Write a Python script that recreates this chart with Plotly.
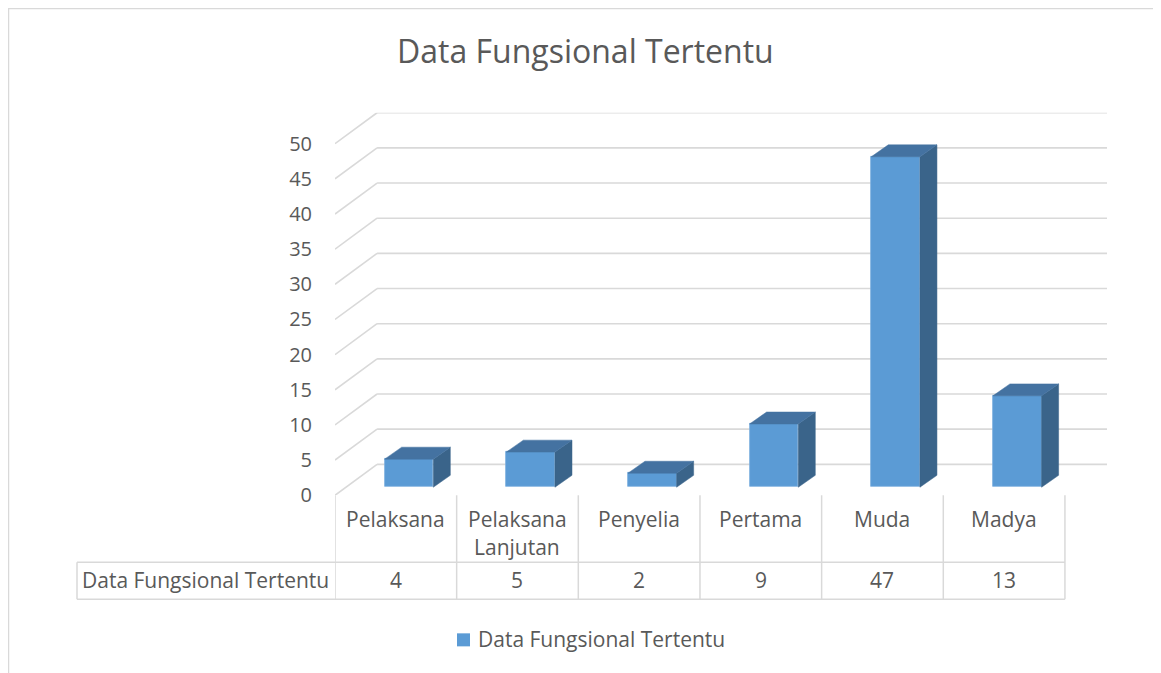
import plotly.graph_objects as go

# ---------------- data ----------------
categories = ["Pelaksana", "Pelaksana Lanjutan", "Penyelia", "Pertama", "Muda", "Madya"]
values = [4, 5, 2, 9, 47, 13]
series_name = "Data Fungsional Tertentu"
title_text = "Data Fungsional Tertentu"
y_ticks = [0, 5, 10, 15, 20, 25, 30, 35, 40, 45, 50]

# ---------------- geometry / style ----------------
OFF = 8                      # default page body margin
S_Y = 0.98                   # observed vertical scale of the capture
W, H = 1161 - OFF, 668
FONT = "Open Sans"
TXT = "#595959"
GRID = "#D9D9D9"
FRONT = "#5B9BD5"
TOP = "#4472A1"
SIDE = "#3A648A"

DX = 0.3457      # depth of back wall in x units
DY = 4.40        # depth of back wall in y units
BAR_OFF = 0.108  # bar x offset (perspective)
BAR_BASE = 1.14  # bar base raise (perspective)
BAR_W = 0.40
SDX = 0.14       # bar depth in x units
SDY = 1.70       # bar depth in y units


def px(p):
    return (p - OFF) / W


def py(p):
    return 1 - ((p - OFF) / S_Y) / H


n = len(categories)
xs = list(range(n))
ymax = max(y_ticks)

fig = go.Figure()

shapes = []
annotations = []

# gridlines (back wall + left wall diagonals), behind the bars
for v in y_ticks:
    shapes.append(dict(type="line", xref="x", yref="y", layer="below",
                       x0=-0.5, y0=v, x1=-0.5 + DX, y1=v + DY,
                       line=dict(color=GRID, width=1.6)))
    shapes.append(dict(type="line", xref="x", yref="y", layer="below",
                       x0=-0.5 + DX, y0=v + DY, x1=n - 0.5 + DX, y1=v + DY,
                       line=dict(color=GRID, width=1.6)))

# 3D faces of bars
for i, v in zip(xs, values):
    xl = i + BAR_OFF - BAR_W / 2
    xr = i + BAR_OFF + BAR_W / 2
    b = BAR_BASE
    t = BAR_BASE + v
    fig.add_trace(go.Scatter(
        x=[xr, xr + SDX, xr + SDX, xr, xr],
        y=[b, b + SDY, t + SDY, t, b],
        mode="lines", fill="toself", fillcolor=SIDE, line=dict(color=SIDE, width=0.5),
        hoverinfo="skip", showlegend=False))
    fig.add_trace(go.Scatter(
        x=[xl, xl + SDX, xr + SDX, xr, xl],
        y=[t, t + SDY, t + SDY, t, t],
        mode="lines", fill="toself", fillcolor=TOP, line=dict(color=TOP, width=0.5),
        hoverinfo="skip", showlegend=False))

# front faces
fig.add_trace(go.Bar(
    x=[i + BAR_OFF for i in xs], y=values, base=BAR_BASE, width=BAR_W,
    marker=dict(color=FRONT, line=dict(color="#7DB0DE", width=0.8)),
    name=series_name, showlegend=False, hoverinfo="y"))

# outer frame
shapes.append(dict(type="rect", xref="paper", yref="paper",
                   x0=px(8.5), x1=px(1160), y0=py(720), y1=py(8.6),
                   line=dict(color=GRID, width=1.5), fillcolor="rgba(0,0,0,0)", layer="below"))

# data table
TBL_TOP, TBL_MID, TBL_BOT = 495, 562, 599
for k in range(n + 1):
    shapes.append(dict(type="line", xref="x", yref="paper",
                       x0=k - 0.5, x1=k - 0.5, y0=py(TBL_TOP), y1=py(TBL_BOT),
                       line=dict(color=GRID, width=1.5)))
for yy in (TBL_MID, TBL_BOT):
    shapes.append(dict(type="line", xref="x", yref="paper",
                       x0=-0.5, x1=n - 0.5, y0=py(yy), y1=py(yy),
                       line=dict(color=GRID, width=1.5)))
    shapes.append(dict(type="line", xref="paper", yref="paper",
                       x0=px(77), x1=px(335), y0=py(yy), y1=py(yy),
                       line=dict(color=GRID, width=1.5)))
shapes.append(dict(type="line", xref="paper", yref="paper",
                   x0=px(77), x1=px(77), y0=py(TBL_MID), y1=py(TBL_BOT),
                   line=dict(color=GRID, width=1.5)))

TF = 21
for i, (c, v) in enumerate(zip(categories, values)):
    lines = c.split(" ") if len(c) > 12 else [c]
    for j, ln in enumerate(lines):
        annotations.append(dict(x=i, xref="x", y=py(519 + 28 * j), yref="paper",
                                text=ln, showarrow=False, xanchor="center", yanchor="middle",
                                font=dict(family=FONT, size=TF, color=TXT)))
    annotations.append(dict(x=i, xref="x", y=py(580), yref="paper",
                            text=str(v), showarrow=False, xanchor="center", yanchor="middle",
                            font=dict(family=FONT, size=TF, color=TXT)))
annotations.append(dict(x=px(205), xref="paper", y=py(580), yref="paper",
                        text=series_name, showarrow=False, xanchor="center", yanchor="middle",
                        font=dict(family=FONT, size=TF, color=TXT)))

# legend (manual)
shapes.append(dict(type="rect", xref="paper", yref="paper",
                   x0=px(457), x1=px(470), y0=py(646), y1=py(633),
                   line=dict(width=0), fillcolor=FRONT))
annotations.append(dict(x=px(476), xref="paper", y=py(639), yref="paper",
                        text=series_name, showarrow=False, xanchor="left", yanchor="middle",
                        font=dict(family=FONT, size=TF, color=TXT)))

# title
annotations.append(dict(x=px(585), xref="paper", y=py(50), yref="paper",
                        text=title_text, showarrow=False, xanchor="center", yanchor="middle",
                        font=dict(family=FONT, size=32, color=TXT)))

fig.update_layout(
    width=W, height=H, autosize=False,
    margin=dict(l=0, r=0, t=0, b=0),
    paper_bgcolor="white", plot_bgcolor="rgba(0,0,0,0)",
    font=dict(family=FONT, color=TXT),
    xaxis=dict(domain=[px(335), px(1107)], range=[-0.5, n - 0.5 + DX],
               showgrid=False, zeroline=False, showline=False, showticklabels=False,
               fixedrange=True),
    yaxis=dict(domain=[py(495), py(112.7)], range=[0, ymax + DY],
               tickvals=y_ticks, ticktext=[str(t) for t in y_ticks],
               showgrid=False, zeroline=False, showline=False, ticks="",
               ticklabelstandoff=22, tickfont=dict(family=FONT, size=20, color=TXT),
               fixedrange=True),
    showlegend=False,
    shapes=shapes, annotations=annotations, bargap=0,
)

fig.write_html("out.html")
